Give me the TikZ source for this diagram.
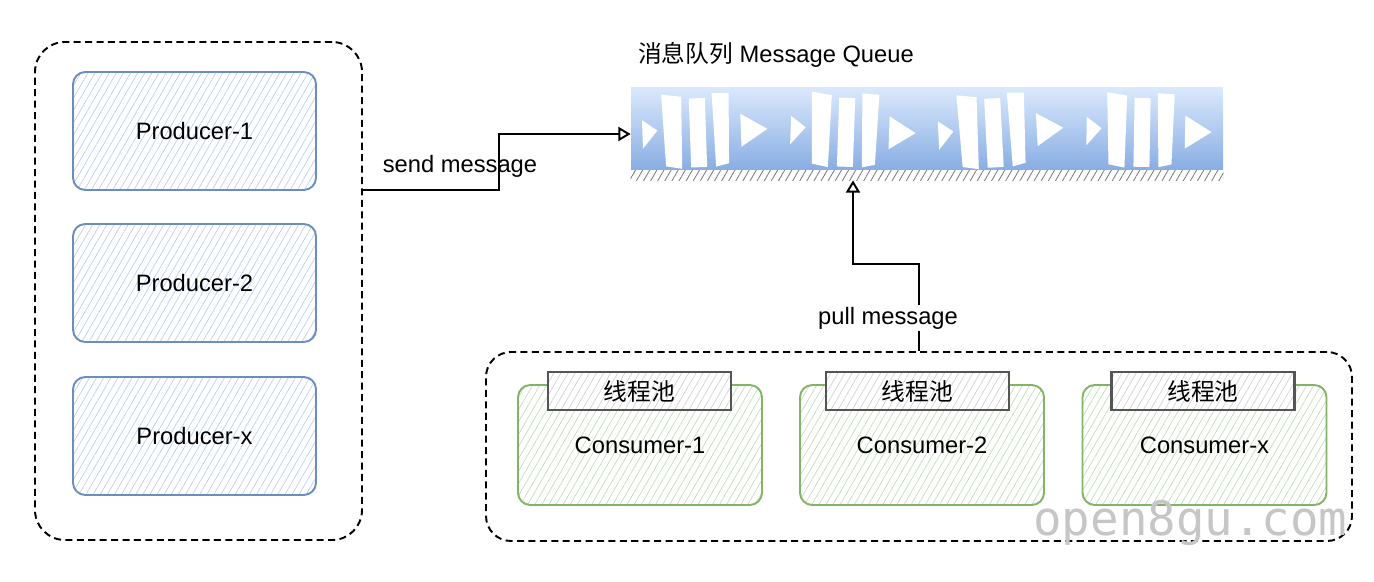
\documentclass[tikz,border=0pt]{standalone}
\usepackage{fontspec}
\setmainfont{Liberation Sans}
\newfontfamily\cjk{Noto Sans CJK SC}
\newfontfamily\markfont{DejaVu Sans Mono}
\usetikzlibrary{arrows.meta,patterns.meta}
\definecolor{prodline}{HTML}{6C8EBF}
\definecolor{prodhatch}{HTML}{B9D0F2}
\definecolor{consline}{HTML}{82B366}
\definecolor{conshatch}{HTML}{C3DEB9}
\definecolor{qtop}{HTML}{DAE8FC}
\definecolor{qbot}{HTML}{7EA6E0}
\definecolor{tabline}{HTML}{555555}

\begin{document}
\begin{tikzpicture}[%
        txt/.style={font=\fontsize{13.5}{16}\selectfont},
        groupbox/.style={draw, line width=1.1pt, dash pattern=on 4pt off 2.5pt},
        prodbox/.style={txt, draw=prodline, line width=1.1pt, rounded corners=7pt,
            pattern={Lines[angle=60,distance=3.5pt,line width=0.4pt]},
            pattern color=prodhatch, minimum width=4.86cm, minimum height=2.36cm},
        consbox/.style={txt, draw=consline, line width=1.1pt, rounded corners=7pt,
            pattern={Lines[angle=60,distance=3.5pt,line width=0.4pt]},
            pattern color=conshatch, minimum width=4.88cm, minimum height=2.40cm},
        pooltab/.style={draw=tabline, line width=1.3pt, preaction={fill=white},
            pattern={Lines[angle=60,distance=3.5pt,line width=0.4pt]},
            pattern color=gray!35, font=\fontsize{13.5}{16}\selectfont\cjk,
            minimum width=3.66cm, minimum height=0.76cm},
        qcell/.style={top color=qtop, bottom color=qbot, minimum width=2.96cm,
            minimum height=1.84cm, inner sep=0pt},
        flow/.style={draw, line width=1.1pt, -{Triangle[open,length=7pt,width=8pt]}}
    ]
        \useasboundingbox (0,0) rectangle (27.48,-11.64);

        % producers
        \node [groupbox, rounded corners=0.6cm, minimum width=6.54cm,
            minimum height=9.96cm] (prods) at (3.97,-5.82) {};
        \foreach \n/\y in {1/-2.62,2/-5.66,x/-8.72}
            \node [prodbox] (p\n) at (3.89,\y) {Producer-\n};

        % message queue
        \node [txt] (qtitle) at (15.52,-1.10) {{\cjk 消息队列} Message Queue};
        \foreach \n/\x in {1/14.10,2/17.06,3/20.02,4/22.98}
            \node [qcell] (q\n) at (\x,-2.68) {};
        \foreach \n/\r in {1/2,2/-2,3/3,4/-1} {
            \begin{scope}[shift={(q\n.center)}, rotate=\r]
                \fill [white] (-1.25,0.32) -- (-1.25,-0.25) -- (-0.95,0.1) -- cycle;
                \fill [white] (-0.85,0.82) -- (-0.45,0.76) -- (-0.48,-0.68) -- (-0.8,-0.62) -- cycle;
                \fill [white] (-0.3,0.72) rectangle (0.02,-0.66);
                \fill [white] (0.16,0.82) -- (0.5,0.8) -- (0.46,-0.6) -- (0.2,-0.66) -- cycle;
                \fill [white] (0.72,0.38) -- (0.72,-0.28) -- (1.25,0.06) -- cycle;
            \end{scope}
            \fill [white] ([yshift=0.2cm]q\n.south west) rectangle (q\n.south east);
            \fill [pattern={Lines[angle=60,distance=3.5pt,line width=0.5pt]},
                pattern color=gray] ([yshift=0.2cm]q\n.south west) rectangle (q\n.south east);
        }

        % consumers
        \node [groupbox, rounded corners=0.5cm, minimum width=17.32cm,
            minimum height=3.78cm] (cons) at (18.38,-8.93) {};
        \foreach \n/\x in {1/12.80,2/18.44,x/24.09}
            \node [consbox] (c\n) at (\x,-8.90) {Consumer-\n};
        \foreach \n/\x in {1/12.79,2/18.35,x/24.06}
            \node [pooltab] (t\n) at (\x,-7.82) {线程池};

        % connectors
        \draw [flow] ([yshift=2.02cm]prods.east) -- ++(2.72,0) |- (q1.west);
        \draw [flow] (cons.north) -- ++(0,1.74) -| (q2.south);
        \node [txt] (sendlbl) at (9.2,-3.32) {send message};
        \node [txt, fill=white, inner sep=1pt] (pulllbl) at (17.76,-6.36) {pull message};

        \node [font=\fontsize{27}{30}\selectfont\markfont, text=gray!45, anchor=base west,
            inner sep=0pt] (mark) at (20.66,-10.70) {open8gu.com};
    \end{tikzpicture}
\end{document}
